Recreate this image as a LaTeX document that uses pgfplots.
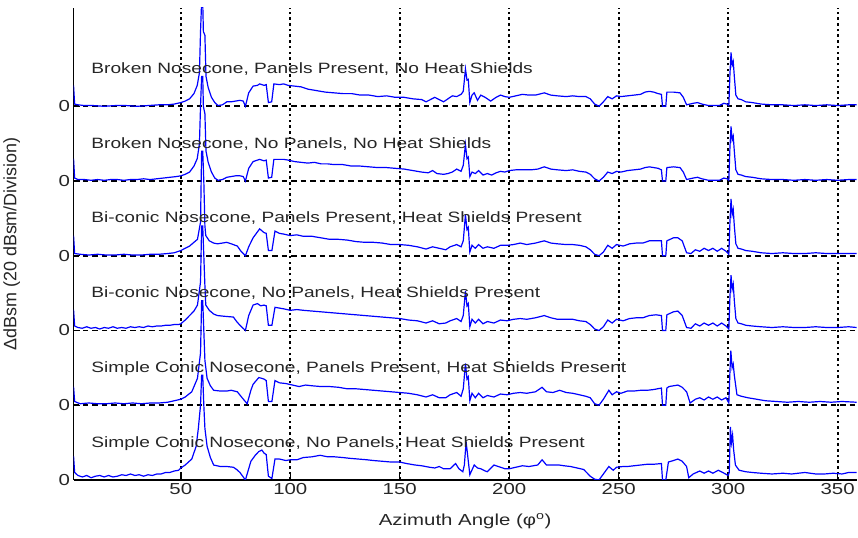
\documentclass[border=0pt]{standalone}
\usepackage{fontspec}
\setmainfont{Liberation Sans}
\newfontfamily\wide{Liberation Sans}[FakeStretch=1.28]
\usepackage{pgfplots}
\usepackage{pgfplotstable}
\pgfplotsset{compat=1.18}

\pgfplotstableread{
x y
1 0.28
1.5 0.03
3 0.02
6 0.01
10 0.01
15 0.0
20 0.01
25 0.01
30 0.0
35 0.01
40 0.02
44 0.02
47 0.03
50 0.05
52 0.07
54 0.1
56 0.17
57.5 0.28
58.5 0.45
59 1.0
59.5 1.4
60 1.4
60.3 1.0
61 0.95
61.5 0.4
62.5 0.25
64 0.12
65.5 0.05
67 0.01
69 0.02
71 0.06
73 0.06
75 0.07
77 0.08
78.5 0.07
79.5 0.0
81 0.18
83 0.27
85 0.28
86 0.3
88 0.28
89 0.29
90 0.05
91.5 0.06
92.5 0.3
95 0.29
97 0.3
99 0.28
102 0.27
105 0.26
108 0.23
112 0.21
116 0.19
120 0.18
124 0.17
128 0.17
132 0.15
136 0.15
140 0.13
144 0.14
148 0.12
152 0.12
156 0.1
160 0.09
162 0.06
164 0.09
166 0.12
168 0.09
170 0.06
172 0.1
174 0.14
176 0.13
178 0.16
179 0.2
180 0.5
180.7 0.35
181.3 0.36
182 0.05
183 0.15
184 0.18
185.5 0.08
187 0.15
189 0.12
191.5 0.07
194 0.12
196 0.15
198 0.13
200 0.12
203 0.14
206 0.16
209 0.15
212 0.15
216 0.18
219 0.15
222 0.14
226 0.13
229 0.14
232 0.13
235 0.13
237 0.1
239 0.03
241 0.0
243 0.06
245 0.13
247 0.1
249 0.14
251 0.13
254 0.14
257 0.15
260 0.16
262 0.19
264 0.2
266 0.19
268 0.17
269.5 0.16
270 0.0
271.5 0.0
272 0.19
275 0.19
278 0.18
279.5 0.12
281 0.02
284 0.04
286 0.05
288 0.03
291 0.01
294 0.01
296 0.01
298 0.04
299.5 0.03
300.3 0.01
300.8 0.43
301.3 0.72
301.8 0.55
302.3 0.6
302.8 0.4
303.5 0.15
304.5 0.1
306 0.09
308 0.06
311 0.05
315 0.03
320 0.02
325 0.02
330 0.01
335 0.02
340 0.01
345 0.02
350 0.01
355 0.02
358.7 0.02
}\traceA

\pgfplotstableread{
x y
1 0.3
1.5 0.04
3 0.02
6 0.02
9 0.01
12 0.02
15 0.01
18 0.02
21 0.02
24 0.01
27 0.02
30 0.02
33 0.03
36 0.02
39 0.03
42 0.04
45 0.05
48 0.06
50 0.07
52 0.09
54 0.12
56 0.2
57.5 0.3
58.5 0.5
59 1.0
59.5 1.4
60 1.4
60.3 1.0
61 0.9
61.5 0.4
62.5 0.25
64 0.12
65.5 0.04
67 0.01
69 0.02
71 0.05
73 0.06
75 0.07
77 0.07
78.5 0.06
79.5 0.0
81 0.17
83 0.26
85 0.28
86 0.29
88 0.27
89 0.28
90 0.04
91.5 0.05
92.5 0.29
95 0.29
97 0.29
99 0.28
102 0.26
105 0.25
108 0.24
111 0.25
114 0.23
117 0.23
120 0.22
124 0.22
128 0.2
132 0.2
136 0.19
140 0.18
144 0.18
148 0.17
152 0.16
156 0.14
160 0.12
163 0.11
165 0.14
167 0.1
170 0.09
172 0.1
174 0.12
176 0.16
178 0.13
179 0.21
180 0.49
180.7 0.3
181.3 0.32
182 0.06
183 0.12
184.5 0.1
186 0.14
188 0.08
190 0.1
192 0.08
194 0.11
196 0.13
198 0.12
200 0.14
203 0.15
206 0.15
210 0.15
213 0.16
216 0.19
219 0.16
222 0.15
226 0.14
229 0.15
232 0.13
235 0.12
237 0.09
239 0.03
241 0.0
243 0.05
245 0.12
247 0.1
249 0.13
251 0.12
254 0.14
257 0.15
260 0.16
262 0.18
264 0.19
266 0.18
268 0.17
269.5 0.15
270 0.0
271.5 0.0
272 0.18
275 0.19
278 0.18
279.5 0.12
281 0.02
284 0.04
286 0.05
288 0.03
291 0.01
294 0.01
296 0.01
298 0.04
299.5 0.03
300.3 0.01
300.8 0.45
301.3 0.73
301.8 0.55
302.3 0.6
302.8 0.4
303.5 0.15
304.5 0.09
306 0.08
308 0.06
311 0.05
315 0.03
320 0.02
325 0.02
330 0.01
335 0.02
340 0.01
345 0.02
350 0.01
355 0.02
358.7 0.02
}\traceB

\pgfplotstableread{
x y
1 0.27
1.5 0.03
4 0.02
8 0.01
12 0.02
16 0.01
20 0.01
24 0.02
28 0.01
32 0.01
36 0.02
40 0.02
44 0.03
47 0.04
50 0.07
52 0.1
54 0.13
56 0.18
57.6 0.22
59 0.45
59.5 1.4
60 1.4
60.5 1.0
61 0.4
61.4 0.27
63 0.2
65 0.17
66.7 0.16
69 0.17
71 0.18
73 0.16
75.8 0.13
77.5 0.06
79.5 0.0
81 0.12
83 0.24
85 0.32
86 0.36
88 0.31
89 0.3
90 0.07
91.6 0.07
93 0.33
95 0.3
97 0.29
100 0.27
103 0.28
106 0.26
110 0.26
114 0.24
118 0.22
122 0.22
126 0.21
130 0.19
134 0.18
138 0.18
142 0.17
146 0.15
150 0.15
154 0.14
158 0.12
162 0.09
165 0.12
168 0.1
171 0.08
173 0.12
176 0.15
178 0.12
179 0.2
180 0.55
180.7 0.35
181.3 0.38
182 0.05
183 0.14
184.5 0.1
186 0.15
188 0.1
190 0.12
193 0.1
196 0.14
199 0.14
202 0.15
205 0.17
208 0.15
212 0.17
216 0.2
219 0.17
222 0.16
226 0.15
229 0.15
232 0.14
235 0.12
237 0.08
239 0.02
241 0.0
243 0.05
245 0.14
247 0.1
249 0.15
252 0.13
255 0.16
258 0.17
261 0.17
264 0.2
267 0.2
269.5 0.2
270 0.0
271.5 0.0
272 0.2
275 0.24
277 0.24
279 0.2
281 0.04
283 0.03
285 0.08
287 0.06
289 0.1
291 0.07
293 0.1
295 0.06
297 0.1
299 0.06
300.3 0.02
300.8 0.45
301.3 0.76
301.8 0.55
302.3 0.62
302.8 0.4
303.5 0.16
304.5 0.1
306 0.09
308 0.07
311 0.06
315 0.04
320 0.03
325 0.04
330 0.03
335 0.03
340 0.04
345 0.03
350 0.03
355 0.03
358.7 0.03
}\traceC

\pgfplotstableread{
x y
1 0.28
1.5 0.06
3 0.04
5 0.03
7 0.05
9 0.03
11 0.04
13 0.02
15 0.04
17 0.03
19 0.05
21 0.03
23 0.04
25 0.03
27 0.05
29 0.04
31 0.05
33 0.04
35 0.06
37 0.05
39 0.06
41 0.06
43 0.07
45 0.07
47 0.08
49 0.08
50 0.09
52 0.14
54 0.2
56 0.26
57.6 0.34
59 0.65
59.5 1.4
60 1.4
60.5 1.0
61 0.6
61.4 0.34
63 0.27
65 0.22
66.7 0.2
70 0.19
74 0.18
75.5 0.12
77 0.07
79.5 0.0
81 0.2
83 0.34
85 0.36
86.5 0.33
88 0.34
89 0.33
90 0.07
91.6 0.07
93 0.31
95 0.3
97 0.29
100 0.27
103 0.28
106 0.27
110 0.26
114 0.25
118 0.24
122 0.23
126 0.22
130 0.21
134 0.2
138 0.19
142 0.18
146 0.17
150 0.16
154 0.14
158 0.13
162 0.1
165 0.13
168 0.09
171 0.1
173 0.13
176 0.16
178 0.12
179 0.2
180 0.53
180.7 0.33
181.3 0.36
182 0.05
183 0.15
184.5 0.1
186 0.15
188 0.09
190 0.12
193 0.1
196 0.14
199 0.13
202 0.15
205 0.16
208 0.15
212 0.17
216 0.2
219 0.17
222 0.15
226 0.15
229 0.15
232 0.13
235 0.12
237 0.08
239 0.02
241 0.0
243 0.05
245 0.14
247 0.1
249 0.15
252 0.13
255 0.16
258 0.17
261 0.17
264 0.2
267 0.21
269.5 0.2
270 0.0
271.5 0.0
272 0.21
275 0.25
277 0.26
279 0.2
281 0.04
283 0.03
285 0.09
287 0.06
289 0.1
291 0.07
293 0.1
295 0.06
297 0.1
299 0.06
300.3 0.02
300.8 0.45
301.3 0.74
301.8 0.55
302.3 0.62
302.8 0.4
303.5 0.16
304.5 0.1
306 0.09
308 0.07
311 0.06
315 0.05
320 0.04
325 0.05
330 0.04
335 0.04
340 0.05
345 0.04
350 0.04
355 0.05
358.7 0.04
}\traceD

\pgfplotstableread{
x y
1 0.25
1.5 0.05
4 0.02
8 0.03
12 0.02
16 0.02
20 0.03
24 0.02
28 0.03
32 0.02
36 0.03
40 0.03
44 0.04
47 0.06
50 0.08
52 0.11
55 0.18
57.6 0.36
59 0.7
59.5 1.4
60 1.4
60.5 1.0
61 0.6
62 0.36
63.5 0.26
65 0.2
68 0.19
71 0.19
73 0.2
75.8 0.18
78 0.1
80.3 0.02
82 0.2
83 0.28
85.6 0.37
87 0.36
88 0.35
89 0.33
90 0.05
91.6 0.05
93 0.33
95 0.3
98 0.29
101 0.27
104 0.25
107 0.27
110 0.26
114 0.25
118 0.25
122 0.24
126 0.22
130 0.22
134 0.21
138 0.2
142 0.19
146 0.18
150 0.17
154 0.16
158 0.14
162 0.11
165 0.14
168 0.1
171 0.1
173 0.14
176 0.17
178 0.12
179 0.22
180 0.56
180.7 0.35
181.3 0.38
182 0.06
183 0.16
184.5 0.1
186 0.16
188 0.1
190 0.13
193 0.11
196 0.15
199 0.14
202 0.16
205 0.17
208 0.16
212 0.18
215 0.24
217 0.18
220 0.17
223 0.2
226 0.17
229 0.16
232 0.14
235 0.12
237 0.1
239 0.02
241 0.0
243 0.08
245.5 0.2
247 0.14
249 0.18
251 0.16
254 0.19
257 0.19
260 0.2
263 0.2
266 0.21
269.5 0.23
270 0.0
271.5 0.0
272 0.23
273 0.25
275 0.26
277 0.27
279 0.24
281 0.18
282.6 0.03
285 0.08
287 0.1
289 0.07
291 0.11
293 0.08
295 0.11
297 0.07
299 0.1
300.3 0.03
300.8 0.45
301.2 0.73
301.8 0.5
302.3 0.55
302.8 0.4
304 0.14
306 0.12
309 0.1
313 0.08
317 0.06
322 0.05
327 0.04
332 0.05
337 0.04
342 0.05
347 0.04
352 0.05
358.7 0.04
}\traceE

\pgfplotstableread{
x y
1 0.32
1.5 0.1
3 0.06
5 0.04
7 0.06
9 0.03
11 0.05
13 0.06
15 0.04
17 0.06
19 0.04
21 0.05
23 0.07
25 0.06
27 0.08
29 0.06
31 0.07
33 0.05
35 0.07
37 0.06
39 0.08
41 0.08
43 0.1
45 0.1
47 0.12
49 0.13
50 0.16
52 0.2
55 0.28
57 0.45
58 0.69
59 1.0
59.5 1.4
60 1.4
60.5 1.0
61 0.69
62 0.45
63.5 0.3
65 0.2
68 0.18
71 0.18
74 0.17
75.5 0.14
77 0.1
79.5 0.0
80.5 0.1
82 0.25
84 0.33
85.6 0.38
87 0.4
88 0.36
89 0.34
90 0.05
91.6 0.02
93 0.28
95 0.28
98 0.26
100 0.27
103 0.27
106 0.3
110 0.31
113.6 0.33
117 0.31
120 0.31
124 0.3
127 0.29
131 0.28
135 0.27
138 0.26
142 0.25
146 0.24
150 0.24
153 0.22
157 0.2
160 0.19
163.6 0.17
166 0.16
168 0.18
170 0.15
173 0.15
175.5 0.22
177 0.15
178.8 0.11
179.5 0.2
180.3 0.51
181 0.33
182 0.07
184 0.2
185.5 0.16
187 0.15
189 0.12
190 0.11
193 0.2
196 0.17
198 0.15
200 0.15
203 0.17
206 0.19
209 0.18
213 0.2
215 0.27
217 0.2
220 0.2
222.7 0.2
225 0.19
228 0.18
231 0.16
234 0.14
237 0.05
239 0.01
241 0.0
243 0.08
245.5 0.18
247.5 0.13
249 0.17
252 0.18
254 0.18
257 0.19
260 0.2
263 0.21
266 0.21
269.5 0.22
270 0.0
271.5 0.0
272.7 0.24
275 0.26
277 0.28
279 0.25
281 0.18
282 0.03
284 0.08
287 0.12
289 0.09
291 0.12
293 0.09
295.5 0.13
297.5 0.1
300 0.06
300.5 0.1
301 0.71
301.5 0.5
302 0.6
302.5 0.4
303.3 0.2
304 0.17
305 0.13
308 0.11
311 0.1
315 0.09
320 0.08
325 0.09
329 0.08
335 0.1
340 0.08
344 0.08
348 0.09
352 0.08
355 0.1
358.7 0.1
}\traceF

\begin{document}
\begin{tikzpicture}
\begin{axis}[
  scale only axis,
  width=786pt, height=473.7pt,
  xmin=1, xmax=358.7,
  ymin=0, ymax=6.316,
  axis x line*=bottom,
  axis y line*=left,
  axis line style={black, line width=1.8pt},
  xtick={50,100,...,350},
  ytick={0,1,2,3,4,5},
  yticklabels={0,0,0,0,0,0},
  tick align=inside,
  major tick length=6pt,
  tick style={black, line width=1.4pt},
  /pgf/number format/assume math mode=true,
  tick label style={font=\wide\fontsize{16}{16}\selectfont, text=black!85},
  xmajorgrids, ymajorgrids,
  x grid style={black, line width=1.8pt, dash pattern=on 2.5pt off 3.2pt},
  y grid style={black, line width=1.7pt, dash pattern=on 5.5pt off 4pt},
  xlabel={Azimuth Angle (φ\textsuperscript{o})},
  ylabel={ΔdBsm (20 dBsm/Division)},
  xlabel style={font=\wide\fontsize{16}{16}\selectfont, text=black!85, at={(axis description cs:0.5,-0.0866)}, anchor=center},
  ylabel style={font=\fontsize{18}{18}\selectfont, text=black!85, at={(axis description cs:-0.079,0.5)}, anchor=center},
]
\addplot[blue, solid, mark=none, line width=1.2pt] table[x=x, y expr=\thisrow{y}+5] {\traceA};
\addplot[blue, solid, mark=none, line width=1.2pt] table[x=x, y expr=\thisrow{y}+4] {\traceB};
\addplot[blue, solid, mark=none, line width=1.2pt] table[x=x, y expr=\thisrow{y}+3] {\traceC};
\addplot[blue, solid, mark=none, line width=1.2pt] table[x=x, y expr=\thisrow{y}+2] {\traceD};
\addplot[blue, solid, mark=none, line width=1.2pt] table[x=x, y expr=\thisrow{y}+1] {\traceE};
\addplot[blue, solid, mark=none, line width=1.2pt] table[x=x, y expr=\thisrow{y}+0] {\traceF};
\begin{scope}[every node/.style={anchor=base west, inner sep=0pt, font=\wide\fontsize{15}{15}\selectfont, text=black!85}]
\node at (axis cs:9.1,5.44) {Broken Nosecone, Panels Present, No Heat Shields};
\node at (axis cs:9.1,4.44) {Broken Nosecone, No Panels, No Heat Shields};
\node at (axis cs:9.1,3.44) {Bi-conic Nosecone, Panels Present, Heat Shields Present};
\node at (axis cs:9.1,2.44) {Bi-conic Nosecone, No Panels, Heat Shields Present};
\node at (axis cs:9.1,1.44) {Simple Conic Nosecone, Panels Present, Heat Shields Present};
\node at (axis cs:9.1,0.44) {Simple Conic Nosecone, No Panels, Heat Shields Present};
\end{scope}
\end{axis}
\path ([yshift=8pt]current axis.north west) -- ([yshift=8pt]current axis.north east);
\path ([xshift=-72pt]current axis.west);
\path ([yshift=-58pt]current axis.south west) -- ([yshift=-58pt]current axis.south east);
\end{tikzpicture}
\end{document}
